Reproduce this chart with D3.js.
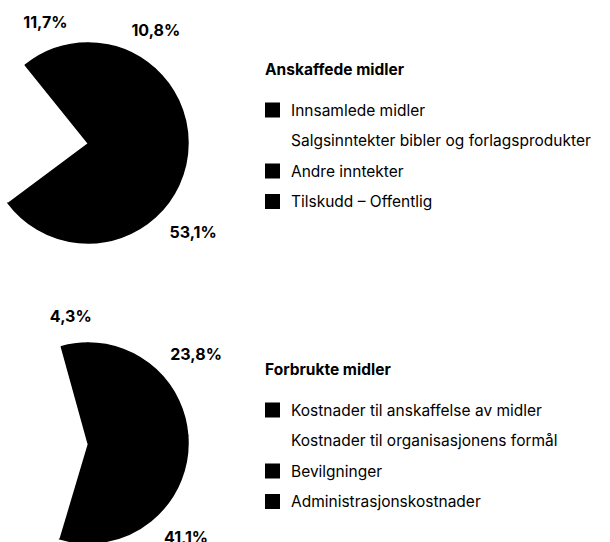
<!DOCTYPE html>
<html>
<head>
<meta charset="utf-8">
<script src="https://cdn.jsdelivr.net/npm/d3@7"></script>
<style>
  html, body { margin: 0; padding: 0; background: #fff; }
  svg { display: block; font-family: Inter, "Noto Sans", sans-serif; }
  .etikett { font-weight: 700; font-size: 16px; }
  .tittel { font-weight: 700; font-size: 15.5px; }
  .post { font-size: 15.5px; }
</style>
</head>
<body>
<div id="viz"></div>
<script>
// legend order; the pie starts at 12 o'clock with the last item
var sektorRekkefolge = [3, 0, 1, 2];

var anskaffedeTittel = 'Anskaffede midler',
    anskaffedeKategorier = ['Innsamlede midler', 'Salgsinntekter bibler og forlagsprodukter', 'Andre inntekter', 'Tilskudd –  Offentlig'],
    anskaffedeVerdier = [53.1, 24.4, 10.8, 11.7],
    anskaffedeEtiketter = ['53,1%', '24,4%', '11,7%', '10,8%'],
    anskaffedeFarger = ['#000', '#fff', '#000', '#000'];

var forbrukteTittel = 'Forbrukte midler',
    forbrukteKategorier = ['Kostnader til anskaffelse av midler', 'Kostnader til organisasjonens formål', 'Bevilgninger', 'Administrasjonskostnader'],
    forbrukteVerdier = [30.8, 41.1, 4.3, 23.8],
    forbrukteEtiketter = ['41,1%', '30,8%', '4,3%', '23,8%'],
    forbrukteFarger = ['#000', '#fff', '#000', '#000'];

var width = 610,
    height = 542,
    radius = 100,

    svg = d3.select('#viz')
        .append('svg')
            .attr('width', width)
            .attr('height', height),

    pie = d3.pie()
        .sort(null)
        .value(function (d) { return d.verdi; }),

    arc = d3.arc()
        .innerRadius(0)
        .outerRadius(radius),

    drawPanel = function (top, tittel, kategorier, verdier, etiketter, farger) {
        var rows = sektorRekkefolge.map(function (i) {
                return {verdi: verdier[i], etikett: etiketter[i], farge: farger[i]};
            }),
            arcs = pie(rows),
            pieGroup = svg.append('g')
                .attr('transform', 'translate(88,' + (top + 143) + ')'),
            legendGroup = svg.append('g')
                .attr('transform', 'translate(265,' + top + ')'),
            y = d3.scalePoint()
                .domain(d3.range(kategorier.length))
                .range([110, 201.5]);

        pieGroup.selectAll('path')
            .data(arcs)
            .enter()
            .append('path')
                .attr('d', arc)
                .attr('fill', function (d) { return d.data.farge; })
                .attr('stroke', function (d) { return d.data.farge === '#fff' ? 'none' : d.data.farge; })
                .attr('stroke-width', 1.5)
                .attr('stroke-linejoin', 'round');

        // white slices carry white labels, which vanish on the page
        pieGroup.selectAll('text')
            .data(arcs.filter(function (d) { return d.data.farge !== '#fff'; }))
            .enter()
            .append('text')
                .attr('class', 'etikett')
                .attr('dominant-baseline', 'central')
                .attr('fill', function (d) { return d.data.farge; })
                .each(function (d) {
                    var mid = (d.startAngle + d.endAngle) / 2,
                        right = Math.sin(mid) > 0,
                        r = right ? 121 : 128;

                    d3.select(this)
                        .attr('text-anchor', right ? 'start' : 'middle')
                        .attr('x', r * Math.sin(mid))
                        .attr('y', -r * Math.cos(mid));
                })
                .text(function (d) { return d.data.etikett; });

        legendGroup.append('text')
            .attr('class', 'tittel')
            .attr('x', 0)
            .attr('y', 69)
            .attr('dominant-baseline', 'central')
            .text(tittel);

        var items = legendGroup.selectAll('g.post')
            .data(kategorier)
            .enter()
            .append('g')
                .attr('class', 'post')
                .attr('transform', function (d, i) { return 'translate(0,' + y(i) + ')'; });

        items.append('rect')
            .attr('x', 0)
            .attr('y', -7.5)
            .attr('width', 15)
            .attr('height', 15)
            .attr('fill', function (d, i) { return farger[i]; });

        items.append('text')
            .attr('x', 26)
            .attr('dominant-baseline', 'central')
            .text(function (d) { return d; });
    };

drawPanel(0, anskaffedeTittel, anskaffedeKategorier, anskaffedeVerdier, anskaffedeEtiketter, anskaffedeFarger);
drawPanel(300, forbrukteTittel, forbrukteKategorier, forbrukteVerdier, forbrukteEtiketter, forbrukteFarger);
</script>
</body>
</html>
